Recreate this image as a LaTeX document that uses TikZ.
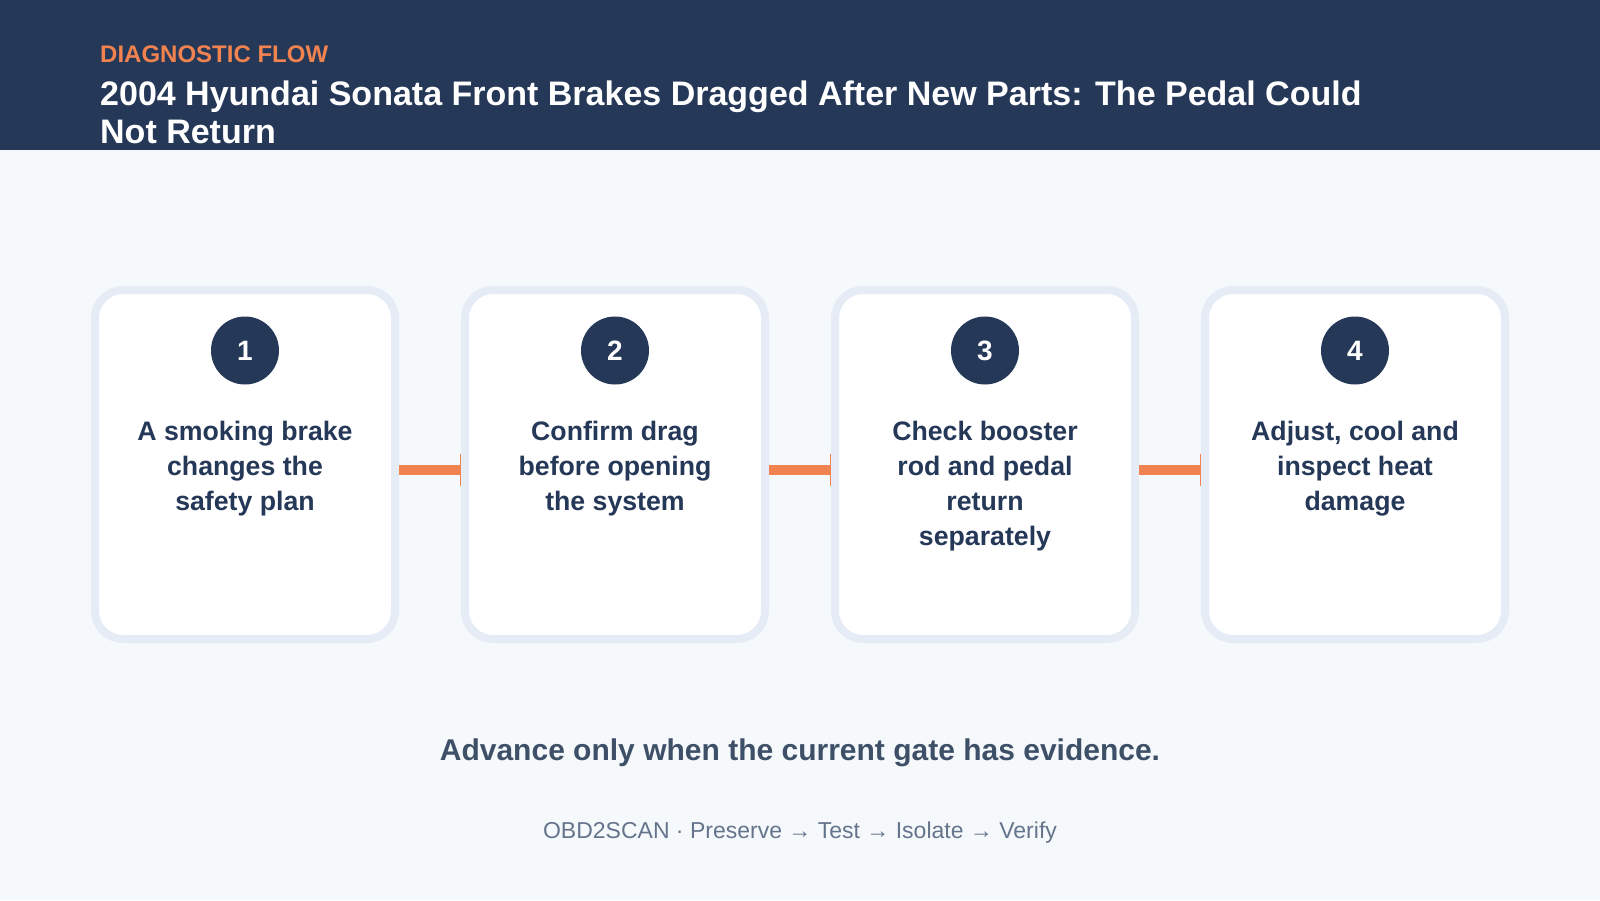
\documentclass[tikz,border=0pt]{standalone}
\usepackage{fontspec}
\setmainfont{Liberation Sans}
\usetikzlibrary{arrows.meta}
\definecolor{navy}{RGB}{37,56,88}
\definecolor{accent}{RGB}{240,131,80}
\definecolor{pagebg}{RGB}{246,249,252}
\definecolor{cardline}{RGB}{229,236,246}
\definecolor{slate}{RGB}{62,80,104}
\definecolor{footgray}{RGB}{100,116,139}
\tikzset{
  card/.style={draw=cardline, line width=8pt, fill=white, rounded corners=28pt,
    minimum width=300pt, minimum height=349pt, inner sep=0pt},
  badge/.style={circle, fill=navy, minimum size=68pt, inner sep=0pt, text=white,
    font=\fontsize{28}{28}\selectfont\bfseries},
  steptext/.style={anchor=base, align=center, inner sep=0pt, text=navy,
    font=\fontsize{26.7}{35}\selectfont\bfseries},
  flowline/.style={draw=accent, line width=10pt,
    -{Bar[width=32pt, line width=1.3pt]}},
}
\begin{document}
\begin{tikzpicture}[x=1pt,y=-1pt]
\useasboundingbox (0,0) rectangle (1600,900);
\fill[pagebg] (0,0) rectangle (1600,900);
\fill[navy] (0,0) rectangle (1600,150);
\node[anchor=base west, inner sep=0pt, text=accent,
  font=\fontsize{24}{24}\selectfont\bfseries] (kicker) at (100,62) {DIAGNOSTIC FLOW};
% base anchor of a multi-line node = baseline of its last line
\node[anchor=base west, align=left, inner sep=0pt, text=white,
  font=\fontsize{34}{38}\selectfont\bfseries] (title) at (100,143)
  {2004 Hyundai Sonata Front Brakes Dragged After New Parts: The Pedal Could\\Not Return};

\foreach \i/\x in {1/245,2/615,3/985,4/1355}{
  \node[card] (c\i) at (\x,464.5) {};
  \node[badge] (b\i) at (\x,350.5) {\i};
}
\node[steptext] (t1) at (245,510) {A smoking brake\\changes the\\safety plan};
\node[steptext] (t2) at (615,510) {Confirm drag\\before opening\\the system};
\node[steptext] (t3) at (985,545) {Check booster\\rod and pedal\\return\\separately};
\node[steptext] (t4) at (1355,510) {Adjust, cool and\\inspect heat\\damage};

\draw[flowline] ([yshift=-5.5pt]c1.east) -- ([yshift=-5.5pt]c2.west);
\draw[flowline] ([yshift=-5.5pt]c2.east) -- ([yshift=-5.5pt]c3.west);
\draw[flowline] ([yshift=-5.5pt]c3.east) -- ([yshift=-5.5pt]c4.west);

\node[anchor=base, inner sep=0pt, text=slate,
  font=\fontsize{30}{30}\selectfont\bfseries] (note) at (800,760)
  {Advance only when the current gate has evidence.};
\node[anchor=base, inner sep=0pt, text=footgray,
  font=\fontsize{23}{23}\selectfont] (foot) at (800,838)
  {OBD2SCAN · Preserve → Test → Isolate → Verify};
\end{tikzpicture}
\end{document}
